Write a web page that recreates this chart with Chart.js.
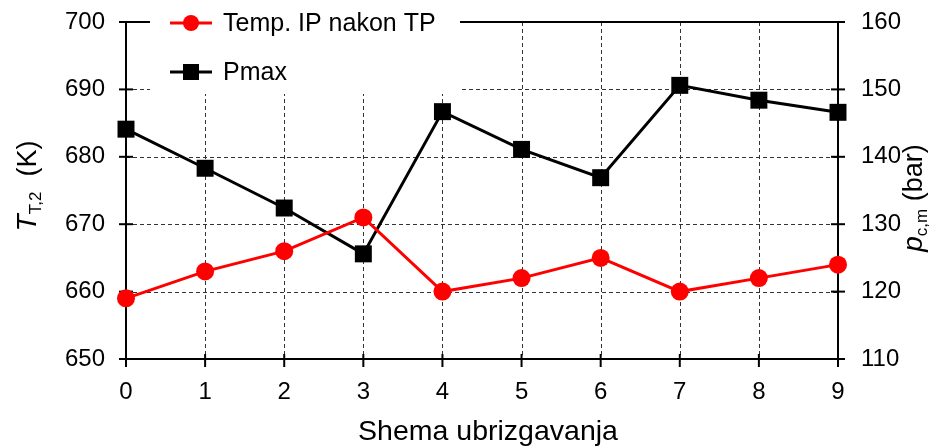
<!DOCTYPE html>
<html>
<head>
<meta charset="utf-8">
<script src="https://cdn.jsdelivr.net/npm/chart.js@4/dist/chart.umd.min.js"></script>
<style>
  html, body { margin: 0; padding: 0; background: #fff; }
  #wrap { width: 935px; height: 448px; }
</style>
</head>
<body>
<div id="wrap"><canvas id="c" width="935" height="448"></canvas></div>
<script>
// Injection schemes on the x axis
const schemes = ['0', '1', '2', '3', '4', '5', '6', '7', '8', '9'];
// Exhaust temperature after the turbine (K), left axis
const tempIP = [659, 663, 666, 671, 660, 662, 665, 660, 662, 664];
// Maximum cylinder pressure (bar), right axis
const pMax = [144.1, 138.3, 132.4, 125.6, 146.7, 141.1, 136.9, 150.6, 148.4, 146.6];
// Axis ranges
const tempRange = [650, 700];
const pressRange = [110, 160];
const legendLabels = ['Temp. IP nakon TP', 'Pmax'];

const FONT = '"Liberation Sans", Arial, sans-serif';

// Draws a run of text pieces (with optional subscripts) rotated -90deg, centred on (cx, cy)
function drawRotatedRich(ctx, cx, cy, parts) {
  ctx.save();
  ctx.translate(cx, cy);
  ctx.rotate(-Math.PI / 2);
  ctx.textBaseline = 'alphabetic';
  ctx.fillStyle = '#000';
  let total = 0;
  parts.forEach(p => { ctx.font = p.font; p.w = ctx.measureText(p.text).width; total += p.w; });
  let x = -total / 2;
  parts.forEach(p => {
    ctx.font = p.font;
    ctx.fillText(p.text, x, 9 + (p.dy || 0));
    x += p.w;
  });
  ctx.restore();
}

// keep the vertical scales from reserving extra room for their end labels
function fixVertical(width) {
  return function (s) {
    s.width = width;
    s.paddingTop = 0;
    s.paddingBottom = 0;
  };
}

const framePlugin = {
  id: 'frame',
  beforeDatasetsDraw(chart) {
    const ctx = chart.ctx;
    const a = chart.chartArea;
    const xs = chart.scales.x, yl = chart.scales.y, yr = chart.scales.y1;
    ctx.save();
    // dashed grid
    ctx.strokeStyle = '#333';
    ctx.lineWidth = 1;
    ctx.setLineDash([4, 3]);
    yl.ticks.forEach(t => {
      const y = Math.round(yl.getPixelForValue(t.value)) + 0.5;
      if (t.value <= tempRange[0] || t.value >= tempRange[1]) return;
      ctx.beginPath(); ctx.moveTo(a.left, y); ctx.lineTo(a.right, y); ctx.stroke();
    });
    schemes.forEach((s, i) => {
      if (i === 0 || i === schemes.length - 1) return;
      const x = Math.round(xs.getPixelForValue(i)) + 0.5;
      ctx.beginPath(); ctx.moveTo(x, a.top); ctx.lineTo(x, a.bottom); ctx.stroke();
    });
    ctx.setLineDash([]);
    // legend backdrop hides the grid behind it
    ctx.fillStyle = '#fff';
    ctx.fillRect(150, 0, 310, 94);
    // axes frame
    ctx.strokeStyle = '#000';
    ctx.lineWidth = 2;
    ctx.beginPath();
    ctx.moveTo(a.left, a.top); ctx.lineTo(a.left, a.bottom); ctx.lineTo(a.right, a.bottom); ctx.lineTo(a.right, a.top);
    ctx.stroke();
    ctx.beginPath(); ctx.moveTo(a.left - 7, a.top); ctx.lineTo(150, a.top); ctx.stroke();
    ctx.beginPath(); ctx.moveTo(460, a.top); ctx.lineTo(a.right + 7, a.top); ctx.stroke();
    // tick marks crossing the axes
    yl.ticks.forEach(t => {
      const y = yl.getPixelForValue(t.value);
      ctx.beginPath(); ctx.moveTo(a.left - 7, y); ctx.lineTo(a.left + 7, y); ctx.stroke();
    });
    yr.ticks.forEach(t => {
      const y = yr.getPixelForValue(t.value);
      ctx.beginPath(); ctx.moveTo(a.right - 7, y); ctx.lineTo(a.right + 7, y); ctx.stroke();
    });
    schemes.forEach((s, i) => {
      const x = xs.getPixelForValue(i);
      ctx.beginPath(); ctx.moveTo(x, a.bottom - 5); ctx.lineTo(x, a.bottom + 8); ctx.stroke();
    });
    ctx.restore();
  },
  afterDraw(chart) {
    const ctx = chart.ctx;
    const a = chart.chartArea;
    ctx.save();
    // legend
    const rows = [
      { y: 23, color: '#ff0000', style: 'circle', label: legendLabels[0] },
      { y: 72, color: '#000000', style: 'rect', label: legendLabels[1] }
    ];
    rows.forEach(r => {
      ctx.strokeStyle = r.color;
      ctx.fillStyle = r.color;
      ctx.lineWidth = 3;
      ctx.beginPath(); ctx.moveTo(170, r.y); ctx.lineTo(212, r.y); ctx.stroke();
      if (r.style === 'circle') {
        ctx.beginPath(); ctx.arc(191, r.y, 8, 0, Math.PI * 2); ctx.fill();
      } else {
        ctx.fillRect(183, r.y - 8, 16, 16);
      }
      ctx.fillStyle = '#000';
      ctx.font = '25px ' + FONT;
      ctx.textBaseline = 'middle';
      ctx.fillText(r.label, 223, r.y + 1);
    });
    ctx.restore();
    // axis titles
    drawRotatedRich(ctx, 27, 186, [
      { text: 'T', font: 'italic 28px ' + FONT },
      { text: 'T,2', font: '17px ' + FONT, dy: 5 },
      { text: '  (K)', font: '27px ' + FONT }
    ]);
    drawRotatedRich(ctx, 913, 198, [
      { text: 'p', font: 'italic 28px ' + FONT },
      { text: 'c,m', font: '17px ' + FONT, dy: 5 },
      { text: ' (bar)', font: '27px ' + FONT }
    ]);
    ctx.save();
    ctx.fillStyle = '#000';
    ctx.font = '28.5px ' + FONT;
    ctx.textAlign = 'center';
    ctx.textBaseline = 'alphabetic';
    ctx.fillText('Shema ubrizgavanja', 488, 440);
    ctx.restore();
  }
};

new Chart(document.getElementById('c'), {
  type: 'line',
  data: {
    labels: schemes,
    datasets: [
      {
        label: legendLabels[0],
        data: tempIP,
        yAxisID: 'y',
        borderColor: '#ff0000',
        backgroundColor: '#ff0000',
        borderWidth: 3,
        pointStyle: 'circle',
        pointRadius: 9,
        pointBorderWidth: 0,
        tension: 0
      },
      {
        label: legendLabels[1],
        data: pMax,
        yAxisID: 'y1',
        borderColor: '#000000',
        backgroundColor: '#000000',
        borderWidth: 3,
        pointStyle: 'rect',
        pointRadius: 12,
        pointBorderWidth: 0,
        tension: 0
      }
    ]
  },
  options: {
    responsive: false,
    animation: false,
    layout: { padding: { top: 22, left: 0, right: 0, bottom: 0 } },
    plugins: { legend: { display: false }, tooltip: { enabled: false } },
    scales: {
      x: {
        type: 'category',
        offset: false,
        grid: { display: false, drawTicks: false },
        border: { display: false },
        ticks: { color: '#000', font: { family: FONT, size: 24 }, padding: 19, maxRotation: 0 },
        afterFit(s) { s.height = 89; s.paddingLeft = 0; s.paddingRight = 0; }
      },
      y: {
        position: 'left',
        min: tempRange[0], max: tempRange[1],
        grid: { display: false, drawTicks: false },
        border: { display: false },
        ticks: { stepSize: 10, color: '#000', font: { family: FONT, size: 24 }, padding: 21 },
        afterFit: fixVertical(126)
      },
      y1: {
        position: 'right',
        min: pressRange[0], max: pressRange[1],
        grid: { display: false, drawTicks: false },
        border: { display: false },
        ticks: { stepSize: 10, color: '#000', font: { family: FONT, size: 24 }, padding: 23 },
        afterFit: fixVertical(97)
      }
    }
  },
  plugins: [framePlugin]
});
</script>
</body>
</html>
